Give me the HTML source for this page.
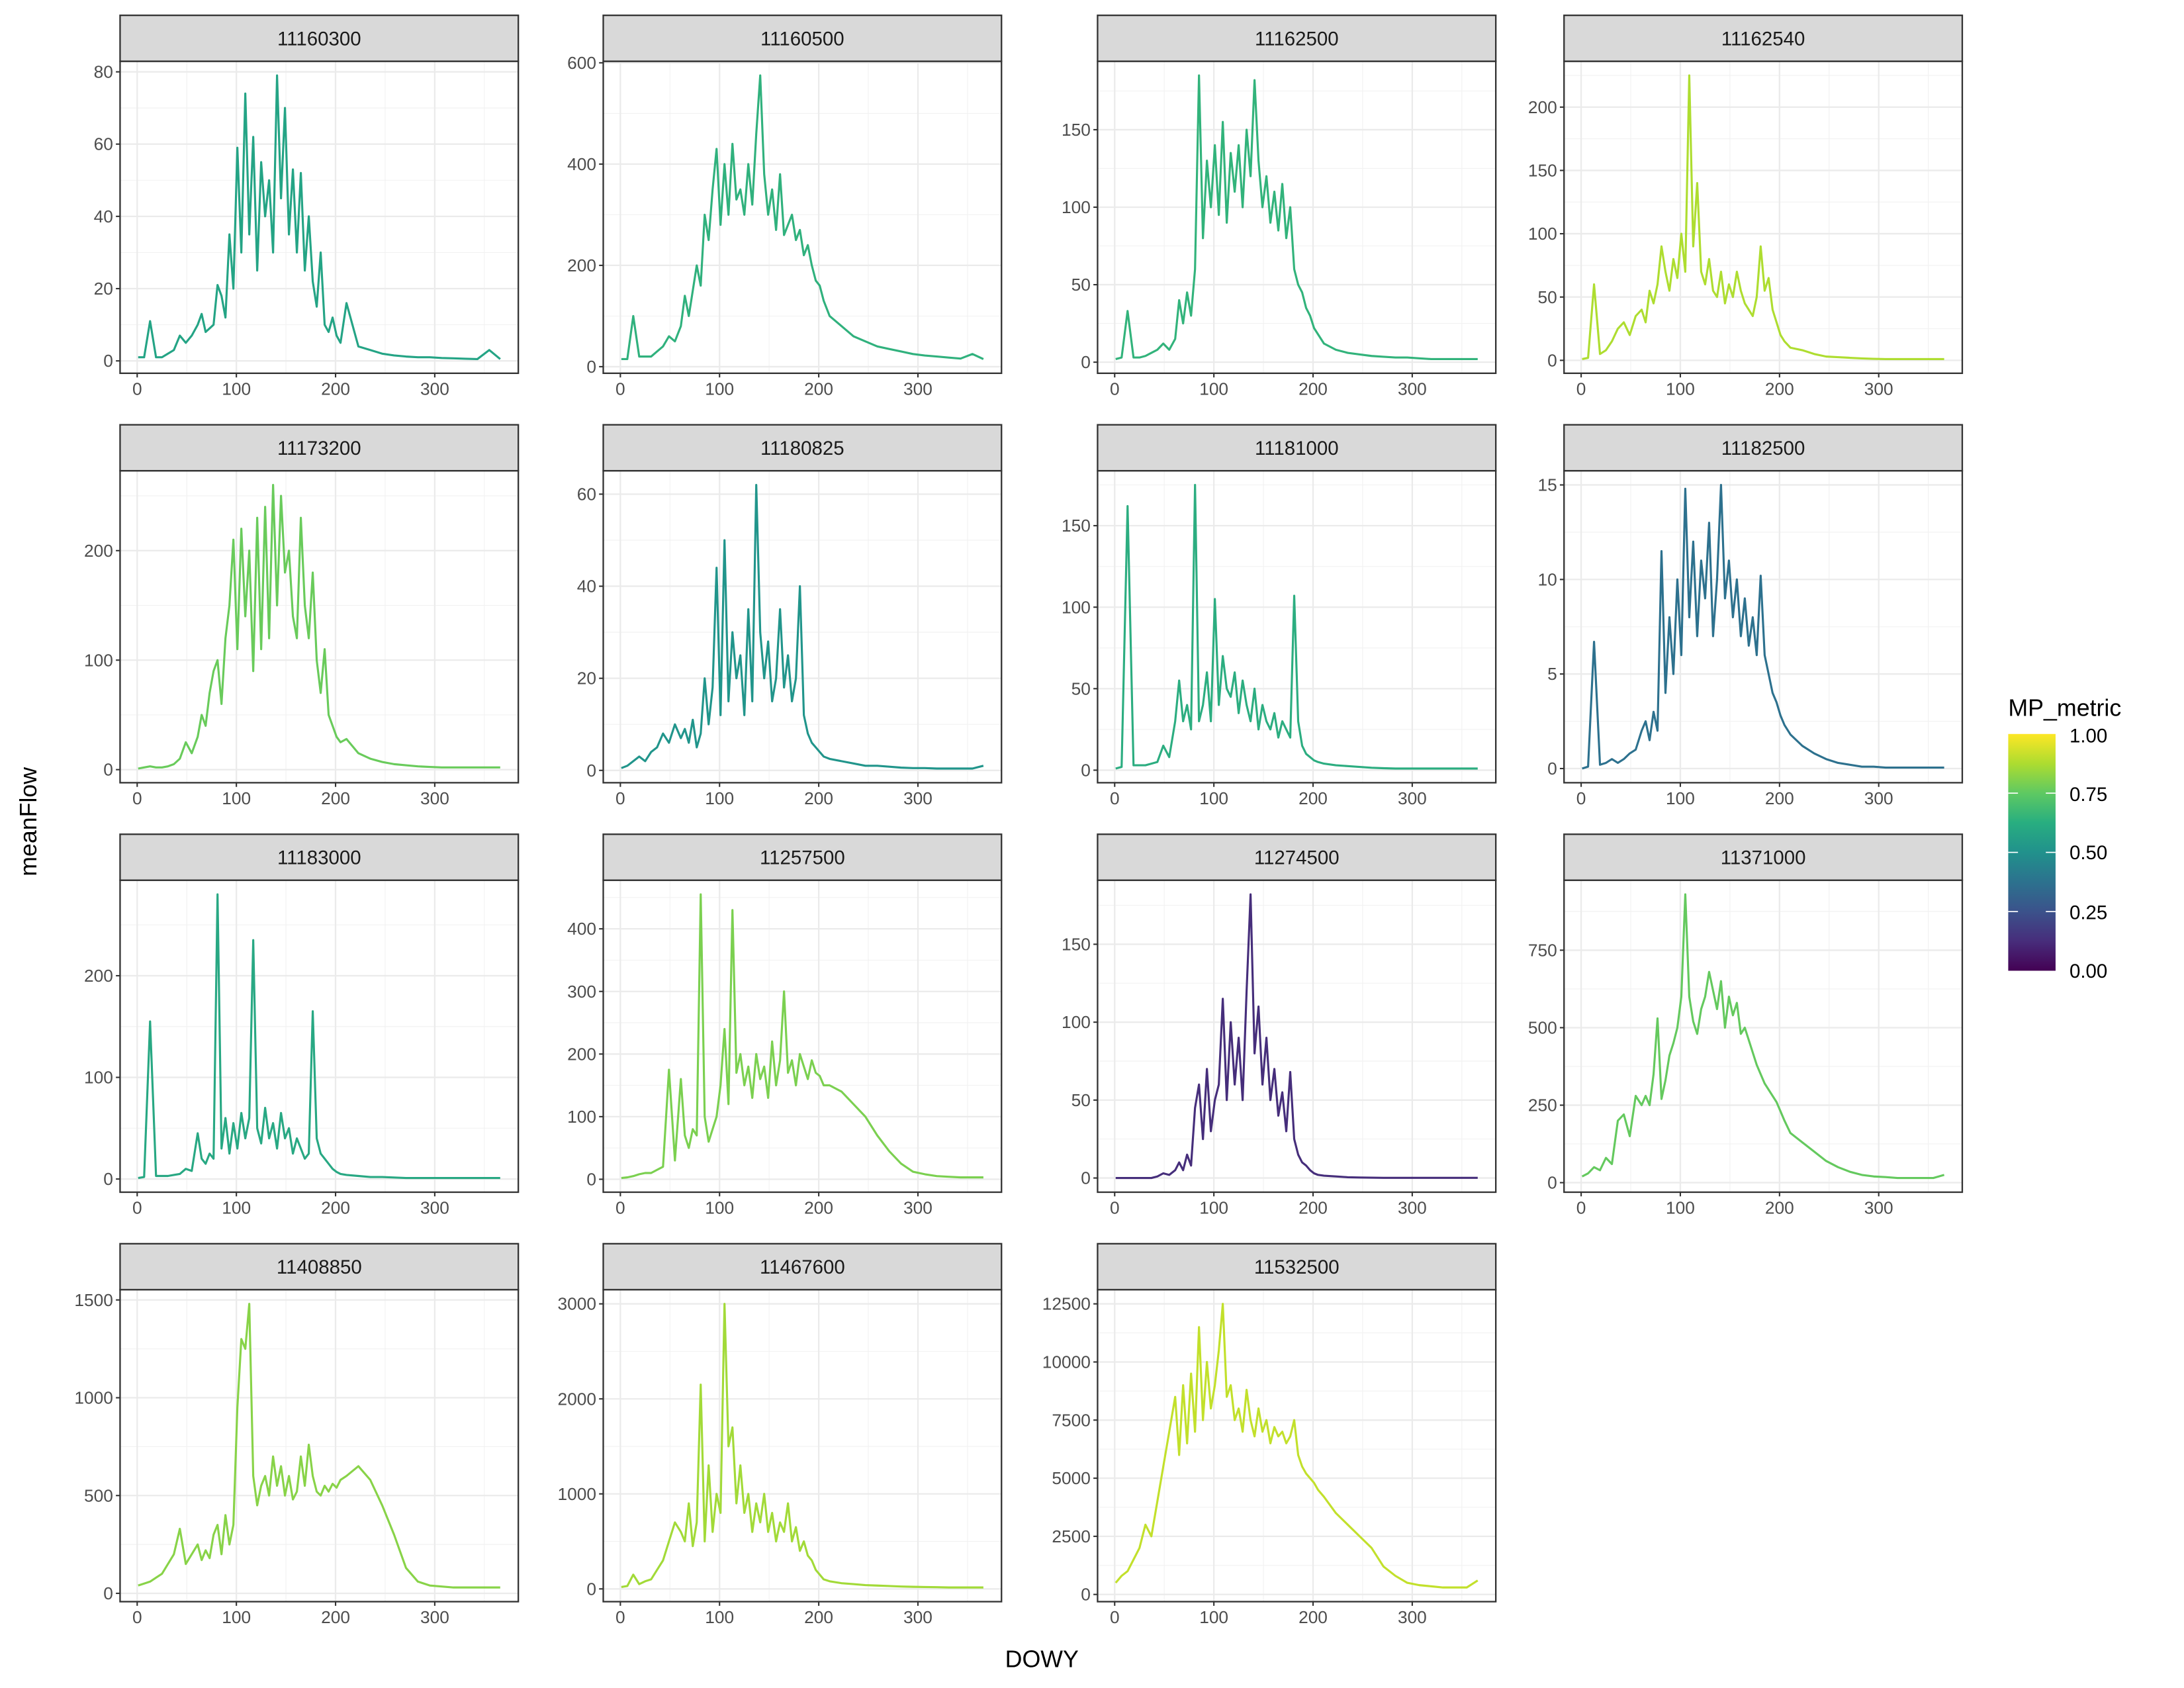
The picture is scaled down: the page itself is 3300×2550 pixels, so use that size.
<!DOCTYPE html>
<html><head><meta charset="utf-8"><style>
html,body{margin:0;padding:0;background:#fff}
svg{display:block;font-family:"Liberation Sans",Arial,sans-serif}
</style></head><body>
<svg id="chart" width="3300" height="2550" viewBox="0 0 1568 1212" xmlns="http://www.w3.org/2000/svg">
<defs><linearGradient id="vir" x1="0" y1="1" x2="0" y2="0">
<stop offset="0" stop-color="#440154"/><stop offset="0.125" stop-color="#472d7b"/><stop offset="0.25" stop-color="#3b528b"/><stop offset="0.375" stop-color="#2c728e"/><stop offset="0.5" stop-color="#21918c"/><stop offset="0.625" stop-color="#28ae80"/><stop offset="0.75" stop-color="#5ec962"/><stop offset="0.875" stop-color="#addc30"/><stop offset="1" stop-color="#fde725"/></linearGradient></defs>
<rect x="0" y="0" width="1568" height="1212" fill="#fff"/>
<g id="panels"></g>
<text x="748" y="1197" font-size="17" text-anchor="middle">DOWY</text>
<text transform="translate(26,590) rotate(-90)" font-size="17" text-anchor="middle">meanFlow</text>
<g>
<text x="1442" y="514" font-size="17">MP_metric</text>
<rect x="1442" y="527" width="34" height="170" fill="url(#vir)"/>
<g stroke="#fff" stroke-width="0.8">
<line x1="1442" y1="569.5" x2="1449" y2="569.5"/><line x1="1469" y1="569.5" x2="1476" y2="569.5"/>
<line x1="1442" y1="612" x2="1449" y2="612"/><line x1="1469" y1="612" x2="1476" y2="612"/>
<line x1="1442" y1="654.5" x2="1449" y2="654.5"/><line x1="1469" y1="654.5" x2="1476" y2="654.5"/>
</g>
<g font-size="14" fill="#000">
<text x="1486" y="533">1.00</text><text x="1486" y="575">0.75</text><text x="1486" y="617">0.50</text><text x="1486" y="660">0.25</text><text x="1486" y="702">0.00</text>
</g>
</g>
</svg>
<script>
const days=[1,7,13,19,25,31,37,43,49,55,61,65,69,73,77,81,85,89,93,97,101,105,109,113,117,121,125,129,133,137,141,145,149,153,157,161,165,169,173,177,181,185,189,193,197,201,205,211,223,235,247,259,271,283,295,307,319,331,343,355,366];
const siteIds=["11160300","11160500","11162500","11162540","11173200","11180825","11181000","11182500","11183000","11257500","11274500","11371000","11408850","11467600","11532500"];
const metrics=[0.58,0.64,0.65,0.88,0.77,0.52,0.62,0.37,0.60,0.80,0.13,0.76,0.82,0.86,0.91];
const yTicks=[[0,20,40,60,80],[0,200,400,600],[0,50,100,150],[0,50,100,150,200],[0,100,200],[0,20,40,60],[0,50,100,150],[0,5,10,15],[0,100,200],[0,100,200,300,400],[0,50,100,150],[0,250,500,750],[0,500,1000,1500],[0,1000,2000,3000],[0,2500,5000,7500,10000,12500]];
const xTicks=[0,100,200,300];
const flow1=[1,1,11,1,1,2,3,7,5,7,10,13,8,9,10,21,18,12,35,20,59,30,74,35,62,25,55,40,50,30,79,45,70,35,53,30,52,25,40,22,15,30,10,8,12,7,5,16,4,3,2,1.5,1.2,1,1,0.8,0.7,0.6,0.5,3,0.5];
const flow2=[15,15,100,20,20,20,30,40,60,50,80,140,100,150,200,160,300,250,350,430,280,400,300,440,330,350,300,400,320,460,575,380,300,350,270,380,260,280,300,250,270,220,240,200,170,160,130,100,80,60,50,40,35,30,25,22,20,18,16,25,15];
const flow3=[2,3,33,3,3,4,6,8,12,8,15,40,25,45,30,60,185,80,130,100,140,95,155,90,135,110,140,100,150,120,182,130,100,120,90,110,85,115,80,100,60,50,45,35,30,22,18,12,8,6,5,4,3.5,3,3,2.5,2,2,2,2,2];
const flow4=[1,2,60,5,8,15,25,30,20,35,40,30,55,45,60,90,70,55,80,65,100,70,225,90,140,70,60,80,55,50,70,45,60,50,70,55,45,40,35,50,90,55,65,40,30,20,15,10,8,5,3,2.5,2,1.5,1.2,1,1,1,1,1,1];
const flow5=[1,2,3,2,2,3,5,10,25,15,30,50,40,70,90,100,60,120,150,210,110,220,140,200,90,230,110,240,120,260,150,250,180,200,140,120,230,150,120,180,100,70,110,50,40,30,25,28,15,10,7,5,4,3,2.5,2,2,2,2,2,2];
const flow6=[0.5,1,2,3,2,4,5,8,6,10,7,9,6,11,5,8,20,10,18,44,12,50,15,30,20,25,12,35,15,62,30,20,28,15,20,35,18,25,15,20,40,12,8,6,5,4,3,2.5,2,1.5,1,1,0.8,0.6,0.5,0.5,0.4,0.4,0.4,0.4,1];
const flow7=[1,2,162,3,3,3,4,5,15,8,30,55,30,40,25,175,30,40,60,30,105,40,70,50,45,60,35,55,40,30,50,25,40,30,25,35,20,30,25,20,107,30,15,10,8,6,5,4,3,2.5,2,1.5,1.2,1,1,1,1,1,1,1,1];
const flow8=[0,0.1,6.7,0.2,0.3,0.5,0.3,0.5,0.8,1,2,2.5,1.5,3,2,11.5,4,8,5,10,6,14.8,8,12,7,11,9,13,7,10,15,9,11,8,10,7,9,6.5,8,6,10.2,6,5,4,3.5,2.8,2.3,1.8,1.2,0.8,0.5,0.3,0.2,0.1,0.1,0.05,0.05,0.05,0.05,0.05,0.05];
const flow9=[1,2,155,3,3,3,4,5,10,8,45,20,15,25,20,280,30,60,25,55,30,65,40,60,235,50,35,70,40,55,30,65,40,50,25,40,30,20,25,165,40,25,20,15,10,7,5,4,3,2,2,1.5,1,1,1,1,1,1,1,1,1];
const flow10=[2,3,5,8,10,10,15,20,175,30,160,70,50,80,70,455,100,60,80,100,150,240,120,430,170,200,150,180,130,200,160,180,130,220,150,190,300,170,190,150,200,180,160,190,170,165,150,150,140,120,100,70,45,25,12,8,5,4,3,3,3];
const flow11=[0,0,0,0,0,0,0,1,3,2,5,10,5,15,8,45,60,25,70,30,50,60,115,50,100,60,90,50,120,182,80,110,60,90,50,70,40,55,30,68,25,15,10,8,5,3,2,1.5,1,0.5,0.3,0.2,0.1,0.1,0.1,0.1,0.1,0.1,0.1,0.1,0.1];
const flow12=[20,30,50,40,80,60,200,220,150,280,250,280,250,350,530,270,330,410,450,500,600,930,600,520,480,560,600,680,620,560,650,500,600,540,580,480,500,460,420,380,350,320,300,280,260,230,200,160,130,100,70,50,35,25,20,18,15,15,15,15,25];
const flow13=[40,50,60,80,100,150,200,330,150,200,250,170,220,180,300,350,200,400,250,350,950,1300,1250,1480,600,450,550,600,500,700,550,650,500,600,480,520,700,550,760,600,520,500,550,520,560,540,580,600,650,580,450,300,130,60,40,35,30,30,30,30,30];
const flow14=[20,30,150,50,80,100,200,300,500,700,600,500,900,450,700,2150,500,1300,600,1000,800,3000,1500,1700,900,1300,800,1000,600,900,700,1000,600,800,500,700,600,900,500,650,400,500,350,300,200,150,100,80,60,50,40,35,30,25,22,20,18,15,15,15,15];
const flow15=[500,800,1000,1500,2000,3000,2500,4000,5500,7000,8500,6000,9000,6500,9500,7000,11500,7500,10000,8000,9000,10500,12500,8500,9000,7500,8000,7000,8800,7500,6800,8000,7000,7500,6500,7200,6800,7000,6500,6800,7500,6000,5500,5200,5000,4800,4500,4200,3500,3000,2500,2000,1200,800,500,400,350,300,300,300,600];
const flows=[flow1,flow2,flow3,flow4,flow5,flow6,flow7,flow8,flow9,flow10,flow11,flow12,flow13,flow14,flow15];

const VIR=[[68,1,84],[72,40,120],[62,73,137],[49,104,142],[38,130,142],[31,158,137],[53,183,121],[109,205,89],[180,222,44],[253,231,37]];
function viridis(t){t=Math.max(0,Math.min(1,t))*9;const i=Math.min(8,Math.floor(t)),f=t-i;const a=VIR[i],b=VIR[i+1];return 'rgb('+a.map((v,k)=>Math.round(v+(b[k]-v)*f)).join(',')+')';}

const NS="http://www.w3.org/2000/svg";
const colLeft=[86,433,788,1123], rowTop=[11,305,599,893], PW=286, PH=224, SH=33;
const root=document.getElementById('panels');
function mk(tag,attrs,parent){const e=document.createElementNS(NS,tag);for(const k in attrs)e.setAttribute(k,attrs[k]);parent.appendChild(e);return e;}

siteIds.forEach((id,p)=>{
  const L=colLeft[p%4], T=rowTop[Math.floor(p/4)]+SH;
  const vals=flows[p];
  const g=mk('g',{},root);
  
  
  const xmin=1-18.25, xmax=366+18.25;
  const vmin=Math.min(...vals), vmax=Math.max(...vals), r=vmax-vmin;
  const ymin=vmin-0.05*r, ymax=vmax+0.05*r;
  const xs=d=>L+(d-xmin)/(xmax-xmin)*PW;
  const ys=v=>T+PH-(v-ymin)/(ymax-ymin)*PH;
  mk('rect',{x:L,y:T,width:PW,height:PH,fill:'#fff'},g);
  // minor grid
  const yt=yTicks[p], step=yt[1]-yt[0];
  for(let k=-1;k<yt.length+1;k++){const v=yt[0]+step*(k+0.5);if(v>ymin&&v<ymax){const yy=ys(v);mk('line',{x1:L,x2:L+PW,y1:yy,y2:yy,stroke:'#f2f2f2','stroke-width':0.55},g);}}
  [50,150,250,350].forEach(d=>{const xx=xs(d);mk('line',{x1:xx,x2:xx,y1:T,y2:T+PH,stroke:'#f2f2f2','stroke-width':0.55},g);});
  yt.forEach(v=>{const yy=ys(v);mk('line',{x1:L,x2:L+PW,y1:yy,y2:yy,stroke:'#ebebeb','stroke-width':1.1},g);
    mk('line',{x1:L-3,x2:L,y1:yy,y2:yy,stroke:'#333','stroke-width':1},g);
    const t=mk('text',{x:L-5,y:yy+4.3,'font-size':12.5,'text-anchor':'end',fill:'#4d4d4d'},g);t.textContent=v;
    
    });
  xTicks.forEach(d=>{const xx=xs(d);mk('line',{x1:xx,x2:xx,y1:T,y2:T+PH,stroke:'#ebebeb','stroke-width':1.1},g);
    mk('line',{x1:xx,x2:xx,y1:T+PH,y2:T+PH+3,stroke:'#333','stroke-width':1},g);
    const t=mk('text',{x:xx,y:T+PH+15.5,'font-size':12.5,'text-anchor':'middle',fill:'#4d4d4d'},g);t.textContent=d;
    
    });
  const pts=days.map((d,i)=>xs(d).toFixed(2)+','+ys(vals[i]).toFixed(2)).join(' ');
  const line=mk('polyline',{points:pts,fill:'none',stroke:viridis(metrics[p]),'stroke-width':1.5,'stroke-linejoin':'round'},g);
  
  
  mk('rect',{x:L,y:T,width:PW,height:PH,fill:'none',stroke:'#333','stroke-width':1.1},g);
  const s=mk('rect',{x:L,y:T-SH,width:PW,height:SH,fill:'#d9d9d9',stroke:'#333','stroke-width':1.1},g);
  
  
  const st=mk('text',{x:L+PW/2,y:T-SH/2+5,'font-size':14,'text-anchor':'middle',fill:'#1a1a1a'},g);st.textContent=id;
  
  
});
</script>
</body></html>
